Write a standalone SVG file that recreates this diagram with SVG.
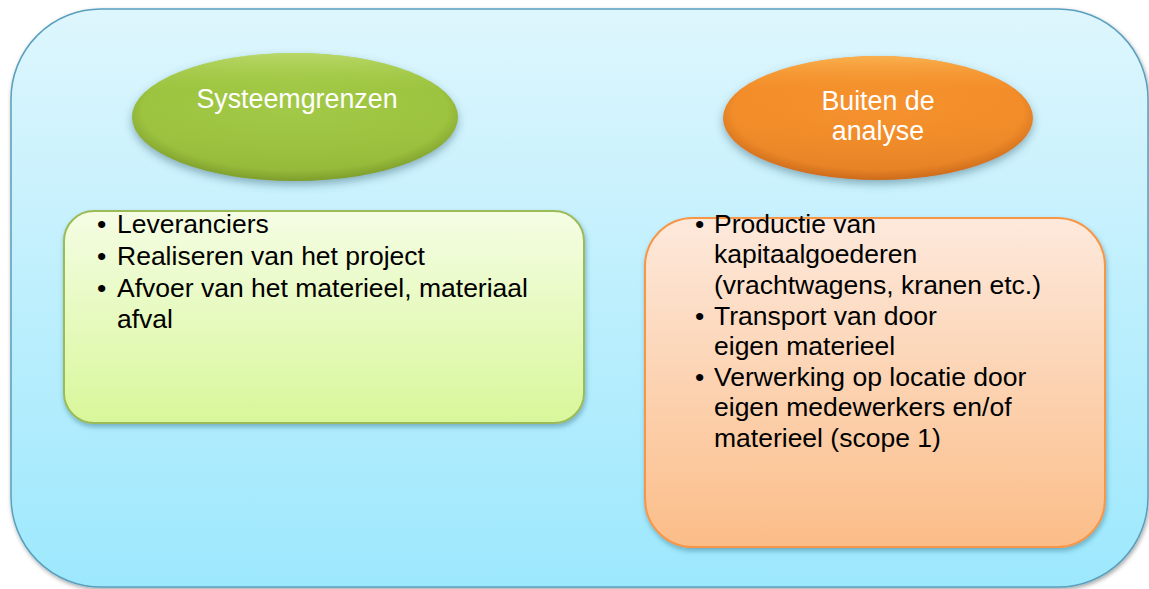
<svg xmlns="http://www.w3.org/2000/svg" width="1149" height="589" viewBox="0 0 1149 589">
<style>
.lbl{font-family:"Liberation Sans",Arial,sans-serif;font-size:26.8px;fill:#ffffff;text-anchor:middle}
.txt{font-family:"Liberation Sans",Arial,sans-serif;font-size:26.5px;fill:#000000}
</style>
<defs>
<linearGradient id="gOuter" x1="0" y1="0" x2="0" y2="1">
<stop offset="0" stop-color="#def6fd"/>
<stop offset="1" stop-color="#9de8fd"/>
</linearGradient>
<linearGradient id="gGreenBox" x1="0" y1="0" x2="0" y2="1">
<stop offset="0" stop-color="#f5fde4"/>
<stop offset="1" stop-color="#d8f79a"/>
</linearGradient>
<linearGradient id="gOrangeBox" x1="0" y1="0" x2="0" y2="1">
<stop offset="0" stop-color="#fde9dc"/>
<stop offset="1" stop-color="#fbbd88"/>
</linearGradient>
<radialGradient id="gGreenEl" cx="0.5" cy="0.45" r="0.55">
<stop offset="0" stop-color="#a2c947"/>
<stop offset="0.85" stop-color="#9dc43f"/>
<stop offset="1" stop-color="#7f9f2c"/>
</radialGradient>
<linearGradient id="gGreenHi" x1="0" y1="0" x2="0" y2="1">
<stop offset="0" stop-color="#c4e07a" stop-opacity="0.7"/>
<stop offset="0.3" stop-color="#a9cf4f" stop-opacity="0"/>
<stop offset="1" stop-color="#7d9c2a" stop-opacity="0.35"/>
</linearGradient>
<radialGradient id="gOrangeEl" cx="0.5" cy="0.45" r="0.55">
<stop offset="0" stop-color="#f6922e"/>
<stop offset="0.85" stop-color="#f28d2a"/>
<stop offset="1" stop-color="#cf6e1c"/>
</radialGradient>
<linearGradient id="gOrangeHi" x1="0" y1="0" x2="0" y2="1">
<stop offset="0" stop-color="#fbb957" stop-opacity="0.8"/>
<stop offset="0.3" stop-color="#f6962f" stop-opacity="0"/>
<stop offset="1" stop-color="#c8651a" stop-opacity="0.35"/>
</linearGradient>
<filter id="shOuter" x="-5%" y="-5%" width="110%" height="110%">
<feDropShadow dx="1" dy="2" stdDeviation="2" flood-color="#000" flood-opacity="0.35"/>
</filter>
<filter id="shBox" x="-5%" y="-5%" width="110%" height="115%">
<feDropShadow dx="1" dy="3" stdDeviation="2.5" flood-color="#1a5a70" flood-opacity="0.4"/>
</filter>
<filter id="shEl" x="-10%" y="-15%" width="120%" height="135%">
<feDropShadow dx="0" dy="4" stdDeviation="4" flood-color="#2a5a6a" flood-opacity="0.45"/>
</filter>
</defs>

<g id="background">
<rect x="11" y="9" width="1137" height="578" rx="90" ry="90" fill="url(#gOuter)" stroke="#5a9fbd" stroke-width="1.5" filter="url(#shOuter)"/>
</g>

<g id="node-systeemgrenzen">
<ellipse cx="295" cy="117" rx="163" ry="64" fill="url(#gGreenEl)" filter="url(#shEl)"/>
<ellipse cx="295" cy="117" rx="163" ry="64" fill="url(#gGreenHi)"/>
<text class="lbl" x="297" y="108">Systeemgrenzen</text>
</g>

<g id="node-buiten">
<ellipse cx="878" cy="118" rx="155" ry="62" fill="url(#gOrangeEl)" filter="url(#shEl)"/>
<ellipse cx="878" cy="118" rx="155" ry="62" fill="url(#gOrangeHi)"/>
<text class="lbl" x="878" y="110">Buiten de</text>
<text class="lbl" x="878" y="140">analyse</text>
</g>

<g id="node-binnen-lijst">
<rect x="64" y="211" width="520" height="212" rx="30" ry="30" fill="url(#gGreenBox)" stroke="#9bbb59" stroke-width="2" filter="url(#shBox)"/>
<text class="txt" x="97" y="233">•</text>
<text class="txt" x="117" y="233">Leveranciers</text>
<text class="txt" x="97" y="265">•</text>
<text class="txt" x="117" y="265">Realiseren van het project</text>
<text class="txt" x="97" y="297">•</text>
<text class="txt" x="117" y="297">Afvoer van het materieel, materiaal</text>
<text class="txt" x="117" y="328">afval</text>
</g>

<g id="node-buiten-lijst">
<rect x="645" y="218" width="460" height="329" rx="48" ry="48" fill="url(#gOrangeBox)" stroke="#f79646" stroke-width="2" filter="url(#shBox)"/>
<text class="txt" x="695" y="233">•</text>
<text class="txt" x="714" y="233">Productie van</text>
<text class="txt" x="714" y="263">kapitaalgoederen</text>
<text class="txt" x="714" y="294">(vrachtwagens, kranen etc.)</text>
<text class="txt" x="695" y="325">•</text>
<text class="txt" x="714" y="325">Transport van door</text>
<text class="txt" x="714" y="355">eigen materieel</text>
<text class="txt" x="695" y="386">•</text>
<text class="txt" x="714" y="386">Verwerking op locatie door</text>
<text class="txt" x="714" y="416">eigen medewerkers en/of</text>
<text class="txt" x="714" y="447">materieel (scope 1)</text>
</g>

<g id="connectors"></g>
</svg>
